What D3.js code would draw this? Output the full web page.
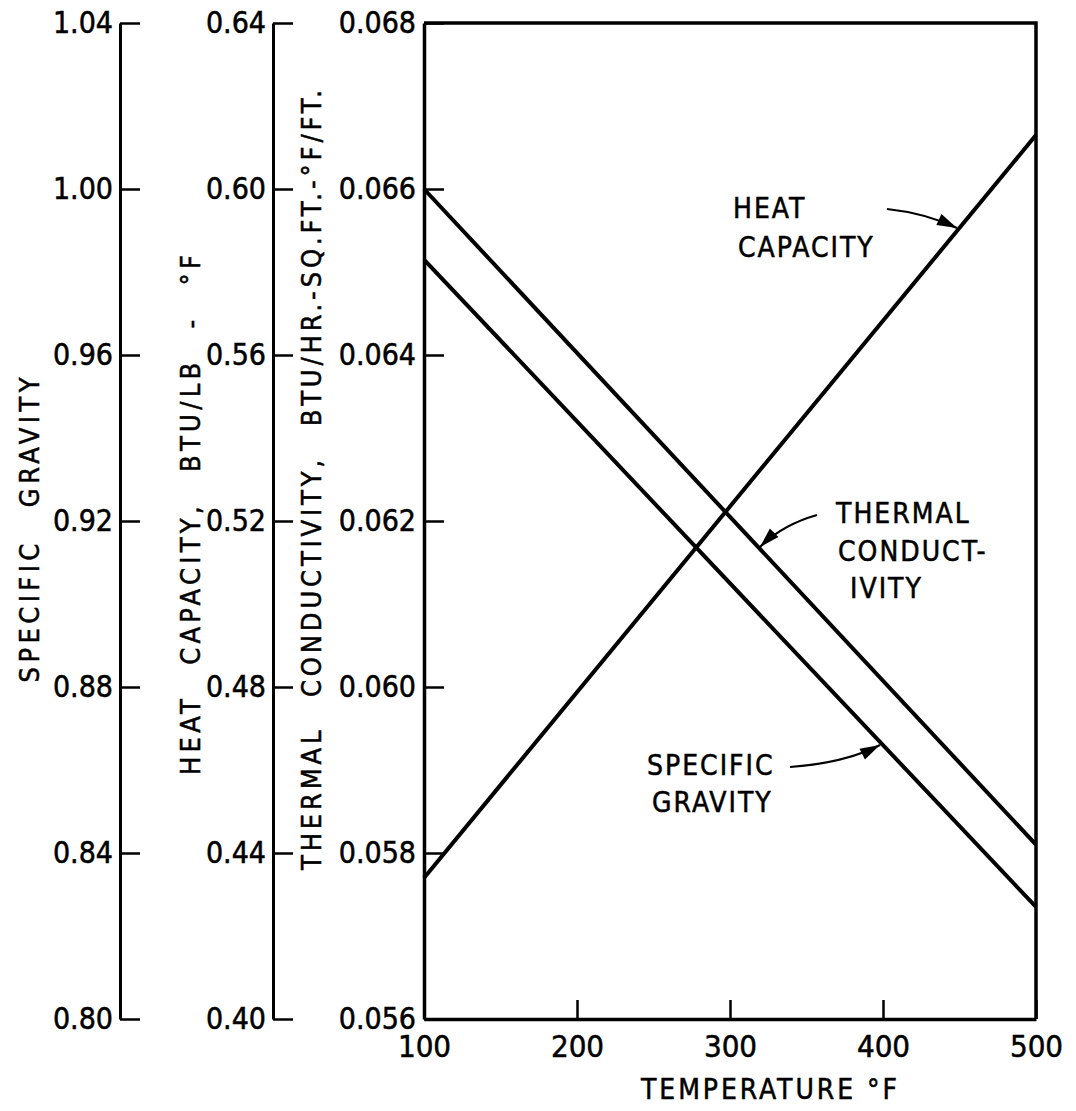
<!DOCTYPE html>
<html>
<head>
<meta charset="utf-8">
<script src="https://cdn.jsdelivr.net/npm/d3@7"></script>
<style>
  html, body { margin: 0; padding: 0; background: #fff; }
  svg { display: block; }
  text {
    font-family: 'DejaVu Sans Condensed', 'Liberation Sans Narrow', 'DejaVu Sans', sans-serif;
    font-stretch: condensed;
    fill: #000;
    stroke: #000;
    stroke-width: 0.5px;
  }
</style>
</head>
<body>
<svg id="chart" width="1076" height="1111"></svg>
<script>
// Temperature (°F) at the ends of each straight-line property curve
const temps = [100, 500];
const heatCapacity = [0.434, 0.613];          // BTU/LB-°F
const thermalConductivity = [0.0660, 0.0581]; // BTU/HR-SQ.FT.-°F/FT.
const specificGravity = [0.983, 0.827];

// Axis ticks
const tempTicks = [100, 200, 300, 400, 500];
const sgTicks = [0.80, 0.84, 0.88, 0.92, 0.96, 1.00, 1.04];
const hcTicks = [0.40, 0.44, 0.48, 0.52, 0.56, 0.60, 0.64];
const tcTicks = [0.056, 0.058, 0.060, 0.062, 0.064, 0.066, 0.068];

const svg = d3.select("#chart");

const plot = { left: 424, right: 1036, top: 23, bottom: 1019 };
const sgAxisX = 120, hcAxisX = 273;

const x = d3.scaleLinear().domain([100, 500]).range([plot.left, plot.right]);
const ySG = d3.scaleLinear().domain([0.80, 1.04]).range([plot.bottom, plot.top]);
const yHC = d3.scaleLinear().domain([0.40, 0.64]).range([plot.bottom, plot.top]);
const yTC = d3.scaleLinear().domain([0.056, 0.068]).range([plot.bottom, plot.top]);

function styleAxis(g, domainWidth) {
  g.select(".domain").attr("stroke", "#000").attr("stroke-width", domainWidth);
  g.selectAll(".tick line").attr("stroke", "#000").attr("stroke-width", 2.5);
  g.selectAll(".tick text").attr("font-size", 30).attr("fill", "#000");
}

// Left-hand value scales: ticks point inward (to the right), labels on the left
const sgAxis = svg.append("g")
  .attr("transform", `translate(${sgAxisX},0)`)
  .call(d3.axisLeft(ySG).tickValues(sgTicks).tickFormat(d3.format(".2f"))
    .tickSizeInner(-20).tickSizeOuter(0).tickPadding(7));
styleAxis(sgAxis, 3);

const hcAxis = svg.append("g")
  .attr("transform", `translate(${hcAxisX},0)`)
  .call(d3.axisLeft(yHC).tickValues(hcTicks).tickFormat(d3.format(".2f"))
    .tickSizeInner(-20).tickSizeOuter(0).tickPadding(7));
styleAxis(hcAxis, 3);

const tcAxis = svg.append("g")
  .attr("transform", `translate(${plot.left},0)`)
  .call(d3.axisLeft(yTC).tickValues(tcTicks).tickFormat(d3.format(".3f"))
    .tickSizeInner(-20).tickSizeOuter(0).tickPadding(8));
styleAxis(tcAxis, 3.5);

// Temperature axis along the bottom of the frame
const xAxis = svg.append("g")
  .attr("transform", `translate(0,${plot.bottom})`)
  .call(d3.axisBottom(x).tickValues(tempTicks)
    .tickSizeInner(-19).tickSizeOuter(0).tickPadding(16));
styleAxis(xAxis, 3.5);
xAxis.selectAll(".tick text").attr("font-size", 31);

// Top and right edges of the frame
svg.append("path")
  .attr("d", `M${plot.left},${plot.top}H${plot.right}V${plot.bottom}`)
  .attr("fill", "none").attr("stroke", "#000").attr("stroke-width", 3.5);

// Property lines
const series = [
  { values: heatCapacity, y: yHC },
  { values: thermalConductivity, y: yTC },
  { values: specificGravity, y: ySG }
];
const line = d3.line();
series.forEach(s => {
  svg.append("path")
    .attr("d", line(temps.map((t, i) => [x(t), s.y(s.values[i])])))
    .attr("fill", "none")
    .attr("stroke", "#000")
    .attr("stroke-width", 4)
    .attr("stroke-linecap", "butt");
});

// Axis titles (rotated, reading upward)
function vTitle(cx, cy, str, size, wordSpacing, span) {
  svg.append("text")
    .attr("transform", `translate(${cx},${cy}) rotate(-90)`)
    .attr("text-anchor", "middle")
    .attr("dominant-baseline", "central")
    .attr("font-size", size)
    .attr("textLength", span)
    .attr("lengthAdjust", "spacing")
    .style("word-spacing", wordSpacing + "px")
    .text(str);
}
vTitle(29, 530, "SPECIFIC GRAVITY", 27, 20, 305);
vTitle(190, 515, "HEAT CAPACITY, BTU/LB - °F", 27, 18, 520);
vTitle(311, 480, "THERMAL CONDUCTIVITY, BTU/HR.-SQ.FT.-°F/FT.", 27, 18, 780);

svg.append("text")
  .attr("x", 769).attr("y", 1099)
  .attr("text-anchor", "middle")
  .attr("font-size", 28)
  .attr("textLength", 256)
  .attr("lengthAdjust", "spacing")
  .text("TEMPERATURE °F");

// Curve labels with pointer arrows
function label(lines, y0, lineGap, xs) {
  lines.forEach((t, i) => {
    svg.append("text")
      .attr("x", xs[i])
      .attr("y", y0 + i * lineGap)
      .attr("font-size", 28)
      .style("letter-spacing", "2px")
      .text(t);
  });
}
label(["HEAT", "CAPACITY"], 218, 39, [733, 738]);
label(["THERMAL", "CONDUCT-", "IVITY"], 523, 37.5, [836, 838, 850]);
label(["SPECIFIC", "GRAVITY"], 775, 37, [647, 652]);

function arrow(x0, y0, cx, cy, x1, y1) {
  svg.append("path")
    .attr("d", `M${x0},${y0}Q${cx},${cy} ${x1},${y1}`)
    .attr("fill", "none").attr("stroke", "#000").attr("stroke-width", 2.2);
  // arrowhead aligned with the curve's end tangent
  const ang = Math.atan2(y1 - cy, x1 - cx);
  const L = 20, W = 6;
  const bx = x1 - L * Math.cos(ang), by = y1 - L * Math.sin(ang);
  const px = -Math.sin(ang) * W, py = Math.cos(ang) * W;
  svg.append("path")
    .attr("d", `M${x1},${y1}L${bx + px},${by + py}L${bx - px},${by - py}Z`)
    .attr("fill", "#000");
}
arrow(887, 209, 925, 213, 957, 228);
arrow(817, 515, 782, 525, 760, 547);
arrow(790, 767, 845, 763, 880, 745);
</script>
</body>
</html>
